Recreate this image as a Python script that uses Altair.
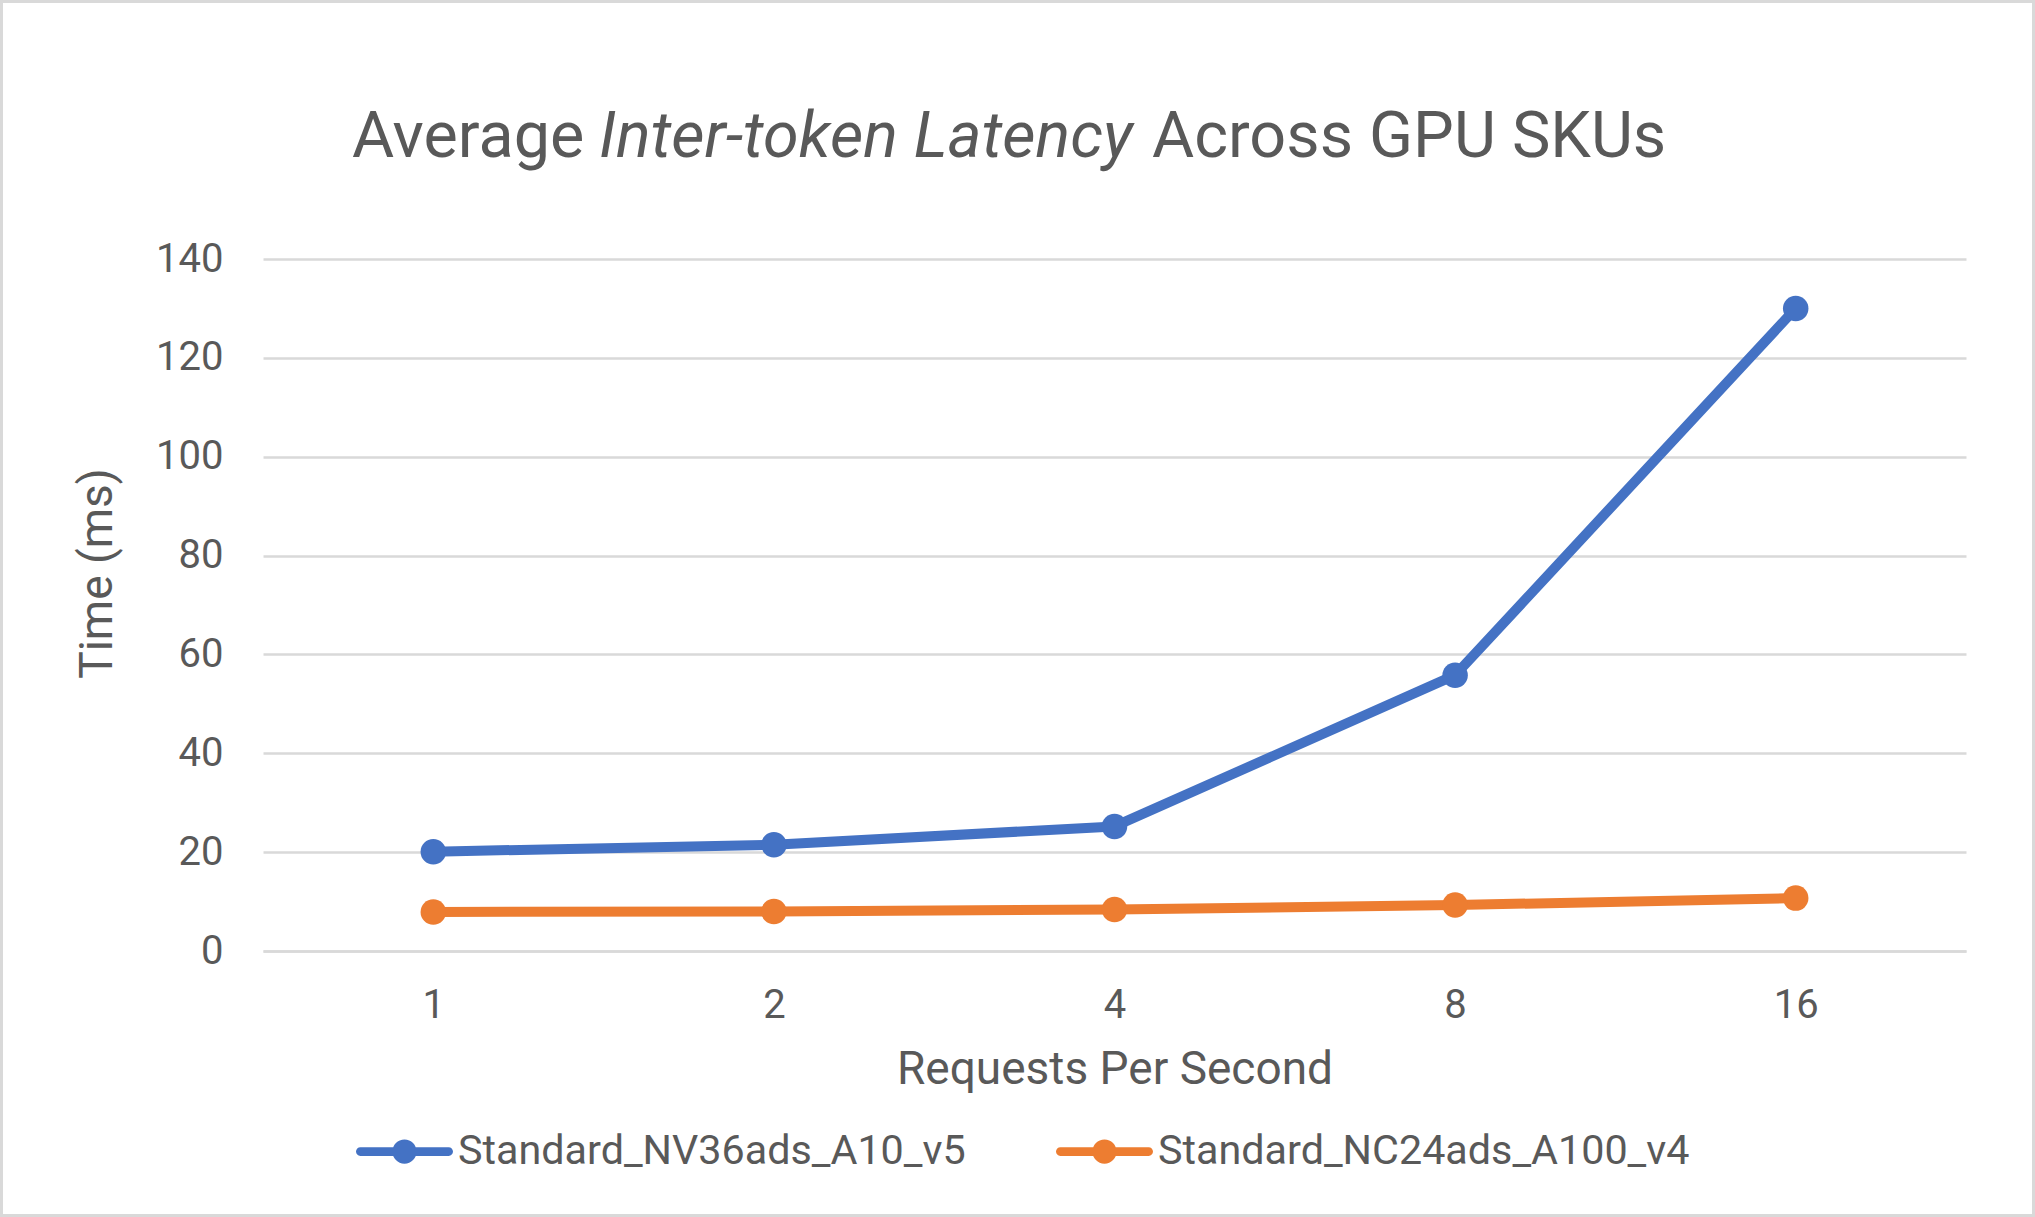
import altair as alt
import pandas as pd

# ---- data ----
rps = ["1", "2", "4", "8", "16"]
series_names = ["Standard_NV36ads_A10_v5", "Standard_NC24ads_A100_v4"]
a10_ms = [20.1, 21.5, 25.2, 55.8, 130.0]
a100_ms = [7.9, 8.0, 8.4, 9.3, 10.7]
colors = ["#4472C4", "#ED7D31"]
title_parts = ["Average", "Inter-token Latency", "Across GPU SKUs"]
y_ticks = [0, 20, 40, 60, 80, 100, 120, 140]

rows = []
for name, vals in zip(series_names, [a10_ms, a100_ms]):
    for r, v in zip(rps, vals):
        rows.append({"rps": r, "series": name, "ms": v})
df = pd.DataFrame(rows)

# ---- layout ----
W, H = 2035, 1217
PL, PT = 263, 259
PW, PH = 1703, 692
PR, PB = W - PL - PW, H - PT - PH
TXT = "#595959"
GRID = "#D9D9D9"
FONT = "Roboto"

# legend symbol: line with rounded caps + circle marker
legend_path = (
    "M-0.91,-0.09H0.91A0.09,0.09 0 0,1 0.91,0.09H-0.91A0.09,0.09 0 0,1 -0.91,-0.09Z "
    "M0.25,0A0.25,0.25 0 1,1 -0.25,0A0.25,0.25 0 1,1 0.25,0Z"
)

x_enc = alt.X(
    "rps:O",
    sort=rps,
    scale=alt.Scale(type="point", padding=0.5),
    axis=alt.Axis(
        title="Requests Per Second",
        labelAngle=0,
        labelFont=FONT, labelFontSize=40, labelColor=TXT,
        labelBaseline="alphabetic", labelPadding=66,
        ticks=False, tickSize=0,
        domain=True, domainColor=GRID, domainWidth=2.5,
        grid=False,
        titleFont=FONT, titleFontSize=46, titleColor=TXT, titleFontWeight="normal",
        titleBaseline="alphabetic", titleAlign="center",
        titleX=PW / 2, titleY=132,
    ),
)
y_enc = alt.Y(
    "ms:Q",
    scale=alt.Scale(domain=[0, 140], nice=False, zero=True),
    axis=alt.Axis(
        title="Time (ms)",
        values=y_ticks,
        labelFont=FONT, labelFontSize=40, labelColor=TXT, labelPadding=40,
        ticks=False, tickSize=0, domain=False,
        grid=True, gridColor=GRID, gridWidth=2.5,
        titleFont=FONT, titleFontSize=46, titleColor=TXT, titleFontWeight="normal",
        titleAngle=-90, titleBaseline="alphabetic", titleAlign="center",
        titleX=111 - PL, titleY=314,
    ),
)
color_scale = alt.Scale(domain=series_names, range=colors)

legend = alt.Legend(
    title=None,
    orient="none",
    direction="horizontal",
    legendX=93, legendY=844,
    symbolType=legend_path,
    symbolSize=9409,
    symbolStrokeWidth=0,
    symbolOpacity=1,
    labelFont=FONT, labelFontSize=41.3, labelColor=TXT,
    labelOffset=5,
    columnPadding=90,
    padding=0,
    labelLimit=800,
)

color_enc = alt.Color("series:N", scale=color_scale, sort=series_names, legend=legend)

lines = alt.Chart(df).mark_line(strokeWidth=10, strokeJoin="round", strokeCap="round").encode(
    x=x_enc,
    y=y_enc,
    color=color_enc,
    detail="series:N",
)

points = alt.Chart(df).mark_point(filled=True, size=650, opacity=1, shape="circle").encode(
    x=x_enc,
    y=y_enc,
    color=color_enc,
)

title_df = pd.DataFrame({"t": title_parts})

TFS = 64.7
t1 = alt.Chart(title_df).transform_filter(alt.datum.t == title_parts[0]).mark_text(
    font=FONT, fontSize=TFS, color=TXT, align="left", baseline="alphabetic"
).encode(text="t:N", x=alt.value(352 - PL), y=alt.value(157 - PT))
t2 = alt.Chart(title_df).transform_filter(alt.datum.t == title_parts[1]).mark_text(
    font=FONT, fontSize=TFS, color=TXT, align="left", baseline="alphabetic", fontStyle="italic"
).encode(text="t:N", x=alt.value(599 - PL), y=alt.value(157 - PT))
t3 = alt.Chart(title_df).transform_filter(alt.datum.t == title_parts[2]).mark_text(
    font=FONT, fontSize=TFS, color=TXT, align="left", baseline="alphabetic"
).encode(text="t:N", x=alt.value(1152 - PL), y=alt.value(157 - PT))

frame = alt.Chart(title_df.head(1)).mark_rect(
    fill=None, stroke=GRID, strokeWidth=3
).encode(
    x=alt.value(-PL + 1.5), x2=alt.value(PW + PR - 1.5),
    y=alt.value(-PT + 1.5), y2=alt.value(PH + PB - 1.5),
)

chart = alt.layer(frame, lines, points, t1, t2, t3).properties(
    width=PW, height=PH,
    autosize=alt.AutoSizeParams(type="none"),
    padding={"left": PL, "top": PT, "right": PR, "bottom": PB},
    background="white",
).configure_view(stroke=None)

chart.save("out.html", embed_options={"renderer": "svg", "actions": False})
